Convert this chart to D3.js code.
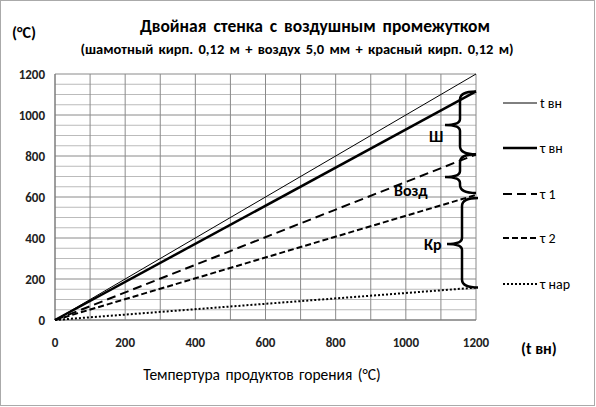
<!DOCTYPE html><html><head><meta charset="utf-8">
<script src="https://cdn.jsdelivr.net/npm/d3@7"></script>
<style>body{margin:0;background:#fff}svg{font-family:Calibri,Carlito,"Liberation Sans",Arial,sans-serif}</style></head><body>
<script>
const xTicks=[0,200,400,600,800,1000,1200];
const yTicks=[0,200,400,600,800,1000,1200];
const xVals=[0,1200];
const tVn=[0,1200];
const tauVn=[0,1115];
const tau1=[0,808];
const tau2=[0,610];
const tauNar=[0,158];
const seriesNames=["t вн","τ вн","τ 1","τ 2","τ нар"];
const W=596,H=407;
const svg=d3.select("body").append("svg").attr("width",W).attr("height",H);
svg.append("rect").attr("x",0.5).attr("y",0.5).attr("width",W-2).attr("height",H-2).attr("fill","#fff").attr("stroke","#aaa");
const x=d3.scaleLinear().domain([0,1200]).range([55,476]);
const y=d3.scaleLinear().domain([0,1200]).range([320,74]);
const g=svg.append("g");
g.selectAll(".hg").data(d3.range(0,1201,50)).join("line").attr("x1",x(0)).attr("x2",x(1200)).attr("y1",d=>y(d)).attr("y2",d=>y(d)).attr("stroke",d=>d%200==0?"#8a8a8a":"#bbb").attr("stroke-width",1);
g.selectAll(".vg").data(d3.range(0,1201,100)).join("line").attr("y1",y(0)).attr("y2",y(1200)).attr("x1",d=>x(d)).attr("x2",d=>x(d)).attr("stroke","#8a8a8a");
g.append("line").attr("x1",x(0)).attr("x2",x(0)).attr("y1",y(0)).attr("y2",y(1200)).attr("stroke","#777");
g.append("line").attr("x1",x(0)).attr("x2",x(1200)).attr("y1",y(0)).attr("y2",y(0)).attr("stroke","#777");
g.selectAll(".yt").data(yTicks).join("text").attr("x",45).attr("y",d=>y(d)+5).attr("text-anchor","end").attr("font-size",13).attr("font-weight","bold").attr("fill","#222").text(d=>d);
g.selectAll(".xt").data(xTicks).join("text").attr("x",d=>x(d)).attr("y",347).attr("text-anchor","middle").attr("font-size",13).attr("font-weight","bold").attr("fill","#222").text(d=>d);
const styles=[{w:1,d:null},{w:2.5,d:null},{w:2,d:"9,5"},{w:2,d:"6,3"},{w:2,d:"2,2"}];
const data=[tVn,tauVn,tau1,tau2,tauNar];
const line=d3.line().x((d,i)=>x(xVals[i])).y(d=>y(d));
data.forEach((s,i)=>{g.append("path").attr("d",line(s)).attr("fill","none").attr("stroke","#000").attr("stroke-width",styles[i].w).attr("stroke-dasharray",styles[i].d);});
const ly=[103,148,194,238,284];
seriesNames.forEach((n,i)=>{svg.append("line").attr("x1",503).attr("x2",537).attr("y1",ly[i]).attr("y2",ly[i]).attr("stroke","#000").attr("stroke-width",styles[i].w).attr("stroke-dasharray",styles[i].d);
svg.append("text").attr("x",540).attr("y",ly[i]+5).attr("font-size",14).text(n);});
function brace(y1,y2,tipY,bx,tipX){
 const p=d3.path();
 p.moveTo(bx+16,y1);p.quadraticCurveTo(bx,y1,bx,y1+8);p.lineTo(bx,tipY-6);p.quadraticCurveTo(bx,tipY,tipX,tipY);
 p.quadraticCurveTo(bx,tipY,bx,tipY+6);p.lineTo(bx,y2-8);p.quadraticCurveTo(bx,y2,bx+16,y2);
 svg.append("path").attr("d",p.toString()).attr("fill","none").attr("stroke","#000").attr("stroke-width",2.5);}
brace(y(tauVn[1]),y(tau1[1]),125,460,445);
brace(y(tau1[1]),y(tau2[1])-2,177,460,445);
brace(y(tau2[1])+3,y(tauNar[1]),244,462,447);
[["Ш",429,142],["Возд",394,196],["Кр",424,250]].forEach(t=>svg.append("text").attr("x",t[1]).attr("y",t[2]).attr("font-size",16).attr("font-weight","bold").text(t[0]));
svg.append("text").attr("x",315).attr("y",32).attr("text-anchor","middle").attr("font-size",17.5).attr("font-weight","bold").attr("word-spacing",3).text("Двойная стенка  с  воздушным промежутком");
svg.append("text").attr("x",297).attr("y",54).attr("text-anchor","middle").attr("font-size",14.5).attr("font-weight","bold").attr("word-spacing",2).text("(шамотный  кирп. 0,12 м + воздух 5,0 мм + красный  кирп. 0,12 м)");
svg.append("text").attr("x",12).attr("y",38).attr("font-size",16).attr("font-weight","bold").text("(°C)");
svg.append("text").attr("x",521).attr("y",354).attr("font-size",16).attr("font-weight","bold").text("(t вн)");
svg.append("text").attr("x",262).attr("y",380).attr("text-anchor","middle").attr("font-size",15.5).attr("word-spacing",2).text("Темпертура продуктов  горения (°С)");
</script></body></html>
